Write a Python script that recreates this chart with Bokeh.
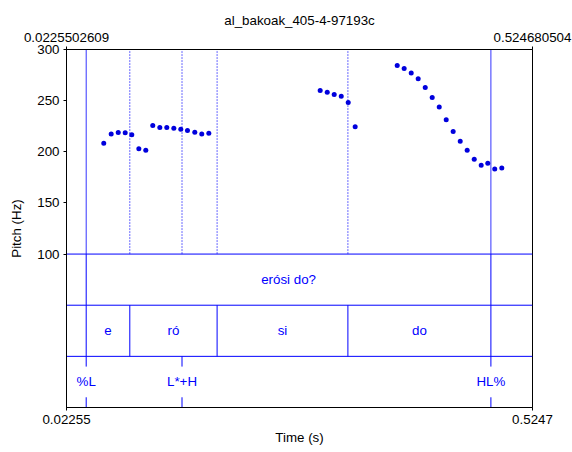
from bokeh.plotting import figure
from bokeh.models import (Range1d, FixedTicker, LinearAxis, CustomJSTickFormatter,
                          ColumnDataSource)
from bokeh.core.properties import value
from bokeh.embed import file_html
from bokeh.resources import INLINE

TITLE = "al_bakoak_405-4-97193c"
T_START = 0.0225502609
T_END = 0.524680504
BOTTOM_LABELS = ["0.02255", "0.5247"]
TOP_LABELS = ["0.0225502609", "0.524680504"]
PITCH_TICKS = [100, 150, 200, 250, 300]

PITCH_T = [0.0627, 0.0707, 0.0783, 0.0858, 0.0929, 0.1005, 0.1080, 0.1155,
           0.1231, 0.1306, 0.1382, 0.1457, 0.1529, 0.1608, 0.1683, 0.1759,
           0.2959, 0.3035, 0.3110, 0.3186, 0.3261, 0.3336,
           0.3789, 0.3864, 0.3940, 0.4015, 0.4091, 0.4166, 0.4242, 0.4317,
           0.4392, 0.4468, 0.4543, 0.4619, 0.4694, 0.4765, 0.4840, 0.4916]
PITCH_HZ = [208.4, 217.5, 218.9, 218.5, 216.6, 202.9, 201.6, 225.7,
            223.8, 223.8, 223.1, 222.1, 220.9, 219.2, 217.3, 218.2,
            259.9, 258.3, 256.0, 254.4, 248.2, 224.4,
            284.4, 281.4, 277.1, 271.3, 262.9, 253.1, 243.9, 231.2,
            219.9, 210.4, 201.6, 192.8, 186.9, 188.9, 183.1, 184.1]

WORD_BOUNDS = [0.04378, 0.47985]
WORD_LABELS = ["erósi do?"]
SYL_BOUNDS = [0.04378, 0.09076, 0.18483, 0.32577, 0.47985]
SYL_LABELS = ["e", "ró", "si", "do"]
TONE_TIMES = [0.04378, 0.14701, 0.47985]
TONE_LABELS = ["%L", "L*+H", "HL%"]

# layout (in pitch-axis units): pitch area 100..300, three tiers of 50 below
PMIN, PMAX = 100, 300
TIER_H = 50
FONT = "Liberation Sans"
FS = "10pt"
BLUE = "#0000ff"

p = figure(width=572, height=452, output_backend="svg", toolbar_location=None,
           x_range=Range1d(T_START, T_END), y_range=Range1d(PMIN - 3 * TIER_H, PMAX),
           min_border_left=66, min_border_right=40, min_border_top=49,
           min_border_bottom=45, x_axis_type=None, y_axis_type=None)
p.grid.visible = False
p.outline_line_color = "black"
p.outline_line_width = 1
p.background_fill_color = "white"
p.border_fill_color = "white"

p.title.text = TITLE
p.title.align = "center"
p.title.text_font = FONT
p.title.text_font_size = FS
p.title.text_font_style = "normal"
p.title.text_color = "black"
p.title.standoff = 4

def style_axis(ax):
    ax.axis_line_color = "black"
    ax.major_tick_line_color = "black"
    ax.major_tick_in = 0
    ax.major_tick_out = 3
    ax.minor_tick_line_color = None
    ax.major_label_text_font = FONT
    ax.major_label_text_font_size = FS
    ax.major_label_text_color = "black"
    ax.axis_label_text_font = FONT
    ax.axis_label_text_font_size = FS
    ax.axis_label_text_font_style = "normal"
    ax.axis_label_text_color = "black"

left = LinearAxis(ticker=FixedTicker(ticks=PITCH_TICKS), axis_label="Pitch (Hz)")
style_axis(left)
left.major_label_standoff = 4
left.axis_label_standoff = 10
p.add_layout(left, "left")

bottom = LinearAxis(ticker=FixedTicker(ticks=[T_START, T_END]), axis_label="Time (s)",
                    formatter=CustomJSTickFormatter(args=dict(labels=BOTTOM_LABELS),
                                                    code="return labels[index]"))
style_axis(bottom)
bottom.major_label_standoff = 4
bottom.axis_label_standoff = 3
p.add_layout(bottom, "below")

top = LinearAxis(ticker=FixedTicker(ticks=[T_START, T_END]),
                 formatter=CustomJSTickFormatter(args=dict(labels=TOP_LABELS),
                                                 code="return labels[index]"))
style_axis(top)
top.major_label_standoff = 5
p.add_layout(top, "above")

# tier separators
p.segment(x0=[T_START] * 3, x1=[T_END] * 3,
          y0=[PMIN, PMIN - TIER_H, PMIN - 2 * TIER_H],
          y1=[PMIN, PMIN - TIER_H, PMIN - 2 * TIER_H], line_color=BLUE, line_width=1)

# boundaries through pitch area
all_b = sorted(set(WORD_BOUNDS) | set(SYL_BOUNDS) | set(TONE_TIMES))
shared = [b for b in all_b if b in WORD_BOUNDS and b in SYL_BOUNDS and b in TONE_TIMES]
single = [b for b in all_b if b not in shared]
p.segment(x0=single, x1=single, y0=[PMIN] * len(single), y1=[PMAX] * len(single),
          line_color=BLUE, line_width=1, line_dash="2 1", line_alpha=0.6)
p.segment(x0=shared, x1=shared, y0=[PMIN] * len(shared), y1=[PMAX] * len(shared),
          line_color=BLUE, line_width=1, line_alpha=0.8)

# word tier
wt, wb = PMIN, PMIN - TIER_H
p.segment(x0=WORD_BOUNDS, x1=WORD_BOUNDS, y0=[wt] * len(WORD_BOUNDS),
          y1=[wb] * len(WORD_BOUNDS), line_color=BLUE, line_width=1)
wx = [(WORD_BOUNDS[i] + WORD_BOUNDS[i + 1]) / 2 for i in range(len(WORD_LABELS))]
p.text(x=wx, y=[(wt + wb) / 2] * len(wx), text=WORD_LABELS, text_align="center",
       text_baseline="middle", text_color=BLUE, text_font=value(FONT), text_font_size=FS)

# syllable tier
st, sb = PMIN - TIER_H, PMIN - 2 * TIER_H
p.segment(x0=SYL_BOUNDS, x1=SYL_BOUNDS, y0=[st] * len(SYL_BOUNDS),
          y1=[sb] * len(SYL_BOUNDS), line_color=BLUE, line_width=1)
sx = [(SYL_BOUNDS[i] + SYL_BOUNDS[i + 1]) / 2 for i in range(len(SYL_LABELS))]
p.text(x=sx, y=[(st + sb) / 2] * len(sx), text=SYL_LABELS, text_align="center",
       text_baseline="middle", text_color=BLUE, text_font=value(FONT), text_font_size=FS)

# tone tier (point tier)
tt, tb = PMIN - 2 * TIER_H, PMIN - 3 * TIER_H
gap = 0.6 * TIER_H / 2
n = len(TONE_TIMES)
tm = (tt + tb) / 2
p.segment(x0=TONE_TIMES, x1=TONE_TIMES, y0=[tt] * n, y1=[tm + gap] * n,
          line_color=BLUE, line_width=1)
p.segment(x0=TONE_TIMES, x1=TONE_TIMES, y0=[tm - gap] * n, y1=[tb] * n,
          line_color=BLUE, line_width=1)
p.text(x=TONE_TIMES, y=[tm] * n, text=TONE_LABELS, text_align="center",
       text_baseline="middle", text_color=BLUE, text_font=value(FONT), text_font_size=FS)

# pitch points
src = ColumnDataSource(dict(t=PITCH_T, hz=PITCH_HZ))
p.scatter(x="t", y="hz", source=src, size=5, color="#0000dd", line_width=0)

open("out.html", "w").write(file_html(p, INLINE))
